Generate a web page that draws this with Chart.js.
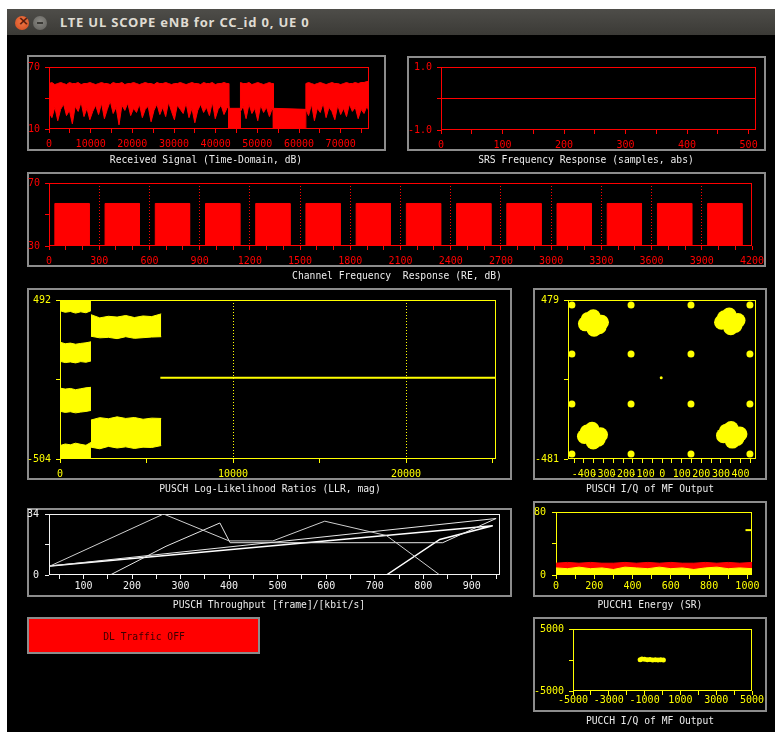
<!DOCTYPE html>
<html>
<head>
<meta charset="utf-8">
<script src="https://cdn.jsdelivr.net/npm/chart.js@4.4.0/dist/chart.umd.min.js"></script>
<style>
body{margin:0;background:#fff;width:775px;height:732px;overflow:hidden;position:relative;font-family:'DejaVu Sans Mono',monospace}
#bar{position:absolute;left:7px;top:9px;width:768px;height:26px;background:linear-gradient(#4e4d49,#3b3a36)}
#bar .t{position:absolute;left:53px;top:4px;color:#dfdbd2;font:bold 13px 'Noto Sans',sans-serif;letter-spacing:0.8px}
.btn{position:absolute;top:7px;width:14px;height:14px;border-radius:50%}
#close{left:8px;background:radial-gradient(circle at 50% 40%,#f07a4a,#d24a1c)}
#close:after{content:'×';position:absolute;left:3px;top:-3px;color:#5a1a08;font:bold 13px 'DejaVu Sans',sans-serif}
#mini{left:26px;background:radial-gradient(circle at 50% 40%,#8a8984,#5e5d59)}
#mini:after{content:'';position:absolute;left:4px;top:6px;width:6px;height:2px;background:#3a3935}
#win{position:absolute;left:7px;top:35px;width:768px;height:697px;background:#000}
.frame{position:absolute;box-sizing:border-box;border:2px solid #8c8c8c}
canvas{position:absolute}
.cap{position:absolute;color:#ececec;font-size:11px;line-height:14px;white-space:pre;transform:translateX(-50%) scaleX(.88)}
#dl{position:absolute;left:27px;top:617px;width:233px;height:37px;box-sizing:border-box;border:2px solid #8c8c8c;background:#ff0000}
#dl span{position:absolute;left:50%;top:11px;transform:translateX(-50%) scaleX(.88);font-size:11px;color:#3a0000;white-space:pre}
</style>
</head>
<body>
<div id="bar"><div class="btn" id="close"></div><div class="btn" id="mini"></div><div class="t">LTE UL SCOPE eNB for CC_id 0, UE 0</div></div>
<div id="win"></div>
<div id="panels"></div>
<div id="dl"><span>DL Traffic OFF</span></div>
<script>
// ---- Received Signal (time domain, dB) ----
var rxSample = [0,700,1400,2100,2800,3500,4200,4900,5600,6300,7000,7700,8400,9100,9800,10500,11200,11900,12600,13300,
  14000,14700,15400,16100,16800,17500,18200,18900,19600,20300,21000,21700,22400,23100,23800,24500,25200,25900,26600,27300,
  28000,28700,29400,30100,30800,31500,32200,32900,33600,34300,35000,35700,36400,37100,37800,38500,39200,39900,40600,41300,
  42000,42700,43100,
  43150,45900,
  45950,46600,47300,48000,48700,49400,50100,50800,51500,52200,52900,53500,53800,
  53850,61600,
  61650,62300,63000,63700,64400,65100,65800,66500,67200,67900,68600,69300,70000,70700,71400,72100,72800,73500,74200,74900,
  75600,76300,76700]
var rxTop = [54,55,53,54,55,54,53,55,54,54,55,53,54,54,55,54,53,54,55,54,
  54,53,55,54,54,55,53,54,54,55,54,53,54,55,54,54,53,55,54,54,
  55,54,53,54,54,55,54,53,54,55,54,54,53,55,54,54,55,53,54,54,
  55,54,54,
  30,30,
  55,54,54,55,53,54,55,54,53,54,55,54,54,
  30,29,
  54,55,54,53,54,55,54,53,54,55,54,54,53,54,55,54,54,55,54,55,
  55,56,56]
var rxBottom = [26,21,31,18,29,34,23,28,15,32,27,36,22,30,19,27,33,24,35,20,
  29,37,25,31,14,33,28,35,23,30,26,34,21,29,32,17,28,34,24,31,
  22,36,27,19,33,29,25,35,21,30,16,28,34,26,31,23,36,20,29,33,
  24,30,32,
  10,10,
  27,32,20,34,25,30,18,33,26,31,22,29,28,
  10,10,
  29,23,34,18,30,26,35,21,31,27,19,33,24,30,22,34,27,31,20,29,
  25,32,28]

// ---- SRS frequency response ----
var srsSample = [0,512]
var srsValue = [0,0]

// ---- Channel frequency response (RE, dB) ----
var cfrStart = [35,335,635,935,1235,1535,1835,2135,2435,2735,3035,3335,3635,3935]
var cfrEnd = [240,540,840,1140,1440,1740,2040,2340,2640,2940,3240,3540,3840,4140]
var cfrLevel = [57,57,57,57,57,57,57,57,57,57,57,57,57,57]

// ---- PUSCH LLR ----
var llrX1 = [0,300,600,900,1200,1500,1790]
var llrAhi = [492,492,492,492,492,492,492], llrAlo = [425,415,420,410,418,412,425]
var llrBhi = [228,218,222,215,220,224,230], llrBlo = [108,100,104,98,106,102,110]
var llrChi = [-60,-66,-62,-70,-64,-58,-55], llrClo = [-205,-212,-208,-215,-210,-206,-200]
var llrDhi = [-420,-410,-415,-405,-412,-418,-400], llrDlo = [-504,-504,-504,-504,-504,-504,-504]
var llrX2 = [1790,2300,2800,3300,3800,4300,4800,5300,5850]
var llrEhi = [400,380,390,385,395,382,392,388,405], llrElo = [265,255,258,250,262,252,256,260,262]
var llrFhi = [-260,-245,-252,-240,-250,-244,-255,-248,-250], llrFlo = [-430,-440,-425,-435,-428,-438,-430,-432,-420]
var llrLineX = [5800,25200], llrLineY = [5,5]

// ---- PUSCH I/Q ----
var iqBigI = [-350,-392,-310,-352,-348,-378,-322,  345,303,387,342,350,318,372,
  -355,-397,-315,-358,-352,-383,-327,  355,313,397,352,358,328,382]
var iqBigQ = [340,335,345,378,302,362,318,  350,345,355,388,312,372,326,
  -340,-345,-335,-302,-378,-318,-362,  -335,-340,-330,-297,-373,-313,-357]
var iqSmallI = [-461,-159,147,448, -461,-159,147,448, -461,-159,147,448, -461,-159,147,448]
var iqSmallQ = [449,449,449,449, 153,153,153,153, -149,-149,-149,-149, -451,-451,-451,-451]
var iqCenterI = [-5], iqCenterQ = [10]

// ---- PUSCH throughput ----
var tpA = [[31,5],[265,34],[400,19],[490,19],[597,30],[724,22],[834,0]]
var tpB = [[155,0],[270,16],[381,29],[402,18],[840,18],[950,31.5],[31,5]]
var tpC = [[62,0],[724,0],[834,19.8],[943,27.4],[31,5]]

// ---- PUCCH1 energy ----
var pucchX = [0,60,120,180,240,300,360,420,480,540,600,660,720,780,840,900,960,1024]
var pucchRed = [15,16,15,16,15,15,16,15,16,15,16,15,15,16,15,16,15,16]
var pucchYellow = [9,8,10,8,9,7,10,9,8,10,8,9,7,9,10,8,9,8]
var pucchSrX = [990,1024], pucchSrY = [57,57]

// ---- PUCCH I/Q ----
var pucchIqI = [-1250,-1150,-1000,-850,-700,-550,-400,-250,-100,50]
var pucchIqQ = [60,150,120,60,90,20,60,0,40,10]

var FONT = 'DejaVu Sans Mono'
var RED = '#ff0000', YEL = '#ffff00', WHT = '#f2f2f2'

Chart.register({
  id: 'frame',
  beforeDatasetsDraw: function (chart, args, opts) {
    var a = chart.chartArea, c = chart.ctx
    c.save()
    c.strokeStyle = opts.color
    c.lineWidth = 1
    c.strokeRect(a.left + 0.5, a.top + 0.5, a.right - a.left - 1, a.bottom - a.top - 1)
    c.restore()
  }
})

function pts(xs, ys) {
  var r = []
  for (var i = 0; i < xs.length; i++) r.push({x: xs[i], y: ys[i]})
  return r
}
function pairs(list) {
  return list.map(function (p) { return {x: p[0], y: p[1]} })
}

// pad = gap between tick mark and label
function axis(pos, min, max, tickList, labels, color, pad, fmt, dotted) {
  return {
    type: 'linear', position: pos, min: min, max: max,
    afterBuildTicks: function (s) { s.ticks = tickList.map(function (v) { return {value: v} }) },
    ticks: {
      autoSkip: false, maxRotation: 0, minRotation: 0, color: color,
      font: {family: FONT, size: 10}, padding: pad,
      callback: function (v) { return labels.indexOf(v) < 0 ? '' : (fmt ? fmt(v) : String(v)) }
    },
    grid: {
      drawOnChartArea: !!dotted,
      color: function (ctx) { return dotted && ctx.tick && dotted.indexOf(ctx.tick.value) >= 0 ? color : 'rgba(0,0,0,0)' },
      tickColor: color, tickLength: 4, tickWidth: 1, lineWidth: 1, tickBorderDash: []
    },
    border: {display: false, dash: [1, 2]}
  }
}

function panel(id, frame, plot, color, xAxis, yAxis, datasets, caption, capPos) {
  var host = document.getElementById('panels')
  var f = document.createElement('div')
  f.className = 'frame'
  f.style.left = frame[0] + 'px'; f.style.top = frame[1] + 'px'
  f.style.width = (frame[2] - frame[0]) + 'px'; f.style.height = (frame[3] - frame[1]) + 'px'
  host.appendChild(f)
  var m = 6
  var box = [frame[0] - m, frame[1] - m, frame[2] + m, frame[3] + m]
  var cv = document.createElement('canvas')
  cv.id = id
  cv.width = box[2] - box[0]; cv.height = box[3] - box[1]
  cv.style.left = box[0] + 'px'; cv.style.top = box[1] + 'px'
  host.appendChild(cv)
  var cap = document.createElement('div')
  cap.className = 'cap'
  cap.textContent = caption
  cap.style.left = capPos[0] + 'px'; cap.style.top = (capPos[1] - 7) + 'px'
  host.appendChild(cap)
  xAxis.afterFit = (function (h) { return function (s) { s.height = h } })(box[3] - plot[3])
  yAxis.afterFit = (function (w) { return function (s) { s.width = w } })(plot[0] - box[0])
  return new Chart(cv, {
    type: 'line',
    data: {datasets: datasets},
    options: {
      responsive: false, animation: false, events: [],
      layout: {autoPadding: false, padding: {left: 0, top: plot[1] - box[1], right: box[2] - plot[2], bottom: 0}},
      scales: {x: xAxis, y: yAxis},
      elements: {point: {radius: 0}, line: {borderWidth: 1, tension: 0}},
      plugins: {legend: {display: false}, tooltip: {enabled: false}, frame: {color: color}}
    }
  })
}

function band(xs, lo, hi, color) {
  return [
    {data: pts(xs, lo), borderColor: color, borderWidth: 1, fill: false},
    {data: pts(xs, hi), borderColor: color, borderWidth: 1, backgroundColor: color, fill: '-1'}
  ]
}
function dots(xs, ys, r, color) {
  return {data: pts(xs, ys), showLine: false, pointRadius: r, pointBackgroundColor: color, pointBorderWidth: 0}
}

// Received signal
panel('rx', [27,55,386,151], [49,67,369,129], RED,
  axis('bottom', 0, 76800, [0,5000,10000,15000,20000,25000,30000,35000,40000,45000,50000,55000,60000,65000,70000,75000],
    [0,10000,20000,30000,40000,50000,60000,70000], RED, 5),
  axis('left', 10, 70, [10,40,70], [10,70], RED, 5),
  band(rxSample, rxBottom, rxTop, RED),
  'Received Signal (Time-Domain, dB)', [206,160])

// SRS
panel('srs', [407,56,766,151], [441,67,756,130], RED,
  axis('bottom', 0, 512, [0,50,100,150,200,250,300,350,400,450,500], [0,100,200,300,400,500], RED, 5),
  axis('left', -1, 1, [-1,0,1], [-1,1], RED, 5, function (v) { return v.toFixed(1) }),
  [{data: pts(srsSample, srsValue), borderColor: RED, borderWidth: 1}],
  'SRS Frequency Response (samples, abs)', [586,160])

// Channel frequency response
var cfrPts = [{x: 0, y: 30}]
for (var i = 0; i < cfrStart.length; i++) {
  cfrPts.push({x: cfrStart[i], y: 30}, {x: cfrStart[i], y: cfrLevel[i]}, {x: cfrEnd[i], y: cfrLevel[i]}, {x: cfrEnd[i], y: 30})
}
cfrPts.push({x: 4200, y: 30})
var cfrTicks = [], cfrLabels = []
for (var t = 0; t <= 4200; t += 100) { cfrTicks.push(t); if (t % 300 === 0) cfrLabels.push(t) }
panel('cfr', [27,172,766,267], [49,183,752,246], RED,
  axis('bottom', 0, 4200, cfrTicks, cfrLabels, RED, 5, null, cfrLabels.slice(1, -1)),
  axis('left', 30, 70, [30,50,70], [30,70], RED, 5),
  [{data: cfrPts, borderColor: RED, borderWidth: 1, backgroundColor: RED, fill: {value: 30}}],
  'Channel Frequency  Response (RE, dB)', [397,276])

// LLR
panel('llr', [27,288,512,480], [60,300,496,459], YEL,
  axis('bottom', 0, 25200, [0,5000,10000,15000,20000,25000], [0,10000,20000], YEL, 5, null, [10000,20000]),
  axis('left', -504, 492, [-504,-6,492], [-504,492], YEL, 5),
  [].concat(
    band(llrX1, llrAlo, llrAhi, YEL), band(llrX1, llrBlo, llrBhi, YEL),
    band(llrX1, llrClo, llrChi, YEL), band(llrX1, llrDlo, llrDhi, YEL),
    band(llrX2, llrElo, llrEhi, YEL), band(llrX2, llrFlo, llrFhi, YEL),
    [{data: pts(llrLineX, llrLineY), borderColor: YEL, borderWidth: 2}]),
  'PUSCH Log-Likelihood Ratios (LLR, mag)', [270,489])

// PUSCH I/Q
panel('iq', [533,288,767,480], [568,300,756,459], YEL,
  axis('bottom', -481, 479, [-450,-400,-350,-300,-250,-200,-150,-100,-50,0,50,100,150,200,250,300,350,400,450],
    [-400,-300,-200,-100,0,100,200,300,400], YEL, 5),
  axis('left', -481, 479, [-481,-1,479], [-481,479], YEL, 5),
  [dots(iqBigI, iqBigQ, 7.5, YEL), dots(iqSmallI, iqSmallQ, 3.5, YEL), dots(iqCenterI, iqCenterQ, 1.5, YEL)],
  'PUSCH I/Q of MF Output', [650,489])

// Throughput
panel('tp', [27,508,512,597], [49,512,500,575], WHT,
  axis('bottom', 29, 958, [50,100,150,200,250,300,350,400,450,500,550,600,650,700,750,800,850,900,950],
    [100,200,300,400,500,600,700,800,900], WHT, 1),
  axis('left', 0, 34, [0,17,34], [0,34], WHT, 6),
  [{data: pairs(tpA), borderColor: '#cfcfcf', borderWidth: 1},
   {data: pairs(tpB), borderColor: '#e6e6e6', borderWidth: 1},
   {data: pairs(tpC), borderColor: '#ffffff', borderWidth: 1.5}],
  'PUSCH Throughput [frame]/[kbit/s]', [269,605])

// PUCCH1 energy (yellow listed first so it is drawn over the red band)
panel('pucch', [533,501,767,597], [556,512,752,575], YEL,
  axis('bottom', 0, 1024, [0,100,200,300,400,500,600,700,800,900,1000], [0,200,400,600,800,1000], YEL, 1),
  axis('left', 0, 80, [0,40,80], [0,80], YEL, 6),
  [{data: pts(pucchX, pucchYellow), borderColor: YEL, backgroundColor: YEL, fill: 'origin'},
   {data: pts(pucchX, pucchRed), borderColor: RED, backgroundColor: RED, fill: 'origin'},
   {data: pts(pucchSrX, pucchSrY), borderColor: YEL, borderWidth: 2}],
  'PUCCH1 Energy (SR)', [650,605])

// PUCCH I/Q
panel('pucchiq', [533,617,767,712], [573,629,752,691], YEL,
  axis('bottom', -5000, 5000, [-5000,-4000,-3000,-2000,-1000,0,1000,2000,3000,4000,5000],
    [-5000,-3000,-1000,1000,3000,5000], YEL, -1),
  axis('left', -5000, 5000, [-5000,0,5000], [-5000,5000], YEL, 5),
  [dots(pucchIqI, pucchIqQ, 2.5, YEL)],
  'PUCCH I/Q of MF Output', [650,721])
</script>
</body>
</html>
